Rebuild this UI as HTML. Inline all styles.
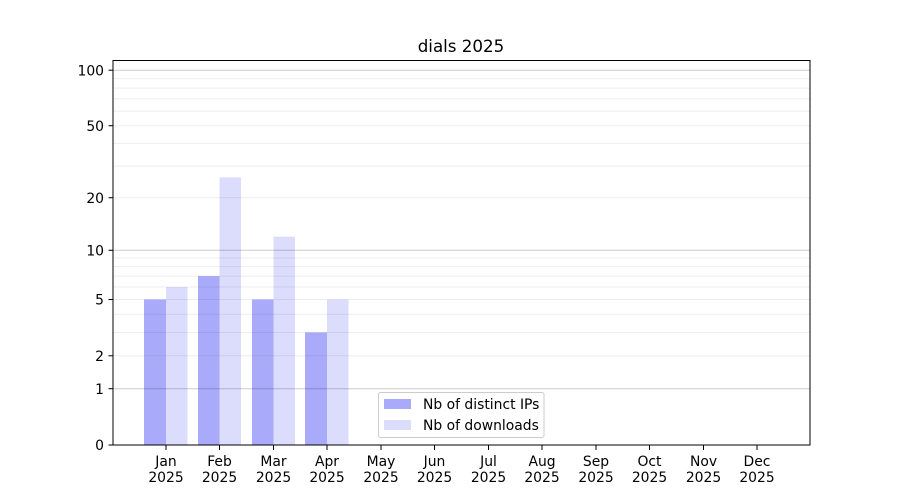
<!DOCTYPE html>
<html><head><meta charset="utf-8"><style>body{margin:0;background:#fff}svg{display:block}</style></head><body>
<svg width="900" height="500" xmlns="http://www.w3.org/2000/svg" font-family="DejaVu Sans, Liberation Sans, sans-serif" font-size="13.9">
<rect width="900" height="500" fill="#fff"/>
<text x="461" y="52" text-anchor="middle" font-size="16.7">dials 2025</text>
<g>
<rect x="144" y="299.5" width="22" height="145.5" fill="#aaaafa"/>
<rect x="166" y="287" width="21.5" height="158" fill="#dcdcfc"/>
<rect x="198" y="276.1" width="21.5" height="168.9" fill="#aaaafa"/>
<rect x="219.5" y="177.4" width="21.5" height="267.6" fill="#dcdcfc"/>
<rect x="252" y="299.5" width="21.5" height="145.5" fill="#aaaafa"/>
<rect x="273.5" y="236.7" width="21.5" height="208.3" fill="#dcdcfc"/>
<rect x="305" y="332.4" width="22" height="112.6" fill="#aaaafa"/>
<rect x="327" y="299.5" width="21.5" height="145.5" fill="#dcdcfc"/>
</g>
<g stroke="#000" stroke-opacity="0.07" stroke-width="1">
<line x1="113" x2="810" y1="355.8" y2="355.8"/><line x1="113" x2="810" y1="332.4" y2="332.4"/>
<line x1="113" x2="810" y1="314.3" y2="314.3"/><line x1="113" x2="810" y1="299.5" y2="299.5"/>
<line x1="113" x2="810" y1="287" y2="287"/><line x1="113" x2="810" y1="276.1" y2="276.1"/>
<line x1="113" x2="810" y1="266.6" y2="266.6"/><line x1="113" x2="810" y1="258" y2="258"/>
<line x1="113" x2="810" y1="197.7" y2="197.7"/><line x1="113" x2="810" y1="166.1" y2="166.1"/>
<line x1="113" x2="810" y1="143.4" y2="143.4"/><line x1="113" x2="810" y1="125.7" y2="125.7"/>
<line x1="113" x2="810" y1="111.2" y2="111.2"/><line x1="113" x2="810" y1="98.8" y2="98.8"/>
<line x1="113" x2="810" y1="88.1" y2="88.1"/><line x1="113" x2="810" y1="78.6" y2="78.6"/>
</g>
<g stroke="#000" stroke-opacity="0.2" stroke-width="1">
<line x1="113" x2="810" y1="388.7" y2="388.7"/><line x1="113" x2="810" y1="250.3" y2="250.3"/><line x1="113" x2="810" y1="70.2" y2="70.2"/>
</g>
<rect x="113" y="60.5" width="697" height="384.5" fill="none" stroke="#000" stroke-width="1"/>
<g stroke="#000"><line x1="108.5" x2="113" y1="445" y2="445"/><line x1="108.5" x2="113" y1="388.7" y2="388.7"/><line x1="108.5" x2="113" y1="355.8" y2="355.8"/><line x1="108.5" x2="113" y1="299.5" y2="299.5"/><line x1="108.5" x2="113" y1="250.3" y2="250.3"/><line x1="108.5" x2="113" y1="197.7" y2="197.7"/><line x1="108.5" x2="113" y1="125.7" y2="125.7"/><line x1="108.5" x2="113" y1="70.2" y2="70.2"/></g>
<g text-anchor="end">
<text x="104" y="450">0</text><text x="104" y="394">1</text><text x="104" y="361">2</text><text x="104" y="304.5">5</text><text x="104" y="255.5">10</text><text x="104" y="203">20</text><text x="104" y="131">50</text><text x="104" y="75.5">100</text>
</g>
<g stroke="#000">
<line x1="166" x2="166" y1="445" y2="450"/><line x1="219.5" x2="219.5" y1="445" y2="450"/><line x1="273.5" x2="273.5" y1="445" y2="450"/><line x1="327" x2="327" y1="445" y2="450"/><line x1="381" x2="381" y1="445" y2="450"/><line x1="434.5" x2="434.5" y1="445" y2="450"/><line x1="488.5" x2="488.5" y1="445" y2="450"/><line x1="542" x2="542" y1="445" y2="450"/><line x1="596" x2="596" y1="445" y2="450"/><line x1="649.5" x2="649.5" y1="445" y2="450"/><line x1="703.5" x2="703.5" y1="445" y2="450"/><line x1="757" x2="757" y1="445" y2="450"/>
</g>
<g text-anchor="middle">
<text x="166" y="466">Jan</text><text x="166" y="482">2025</text>
<text x="219.5" y="466">Feb</text><text x="219.5" y="482">2025</text>
<text x="273.5" y="466">Mar</text><text x="273.5" y="482">2025</text>
<text x="327" y="466">Apr</text><text x="327" y="482">2025</text>
<text x="381" y="466">May</text><text x="381" y="482">2025</text>
<text x="434.5" y="466">Jun</text><text x="434.5" y="482">2025</text>
<text x="488.5" y="466">Jul</text><text x="488.5" y="482">2025</text>
<text x="542" y="466">Aug</text><text x="542" y="482">2025</text>
<text x="596" y="466">Sep</text><text x="596" y="482">2025</text>
<text x="649.5" y="466">Oct</text><text x="649.5" y="482">2025</text>
<text x="703.5" y="466">Nov</text><text x="703.5" y="482">2025</text>
<text x="757" y="466">Dec</text><text x="757" y="482">2025</text>
</g>
<rect x="378.5" y="392.5" width="165.5" height="45" rx="2" fill="#fff" fill-opacity="0.8" stroke="#ccc"/>
<rect x="384" y="399" width="27" height="10" fill="#aaaafa"/>
<rect x="384" y="420" width="27" height="10" fill="#dcdcfc"/>
<text x="423" y="409">Nb of distinct IPs</text>
<text x="423" y="430">Nb of downloads</text>
</svg>
</body></html>
